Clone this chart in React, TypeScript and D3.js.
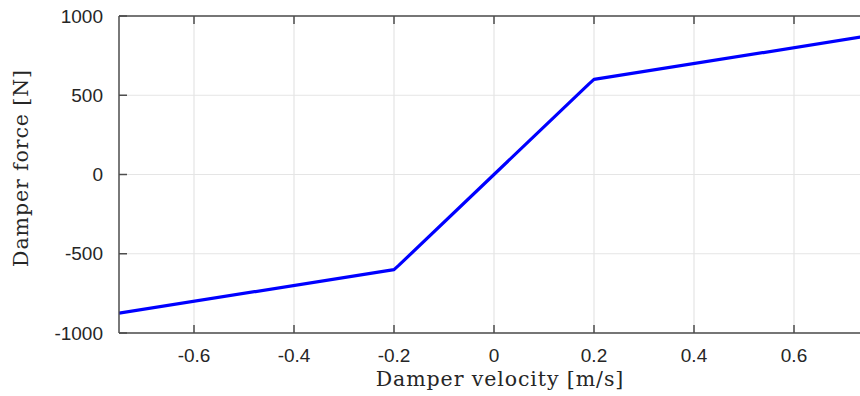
import React from 'react';
import * as d3 from 'd3';

// damper characteristic
const velocity = [-0.75, -0.2, -0.19, 0, 0.19, 0.2, 0.75];
const force = [-875, -600, -572, 0, 572, 600, 875];
const xTicks = [-0.6, -0.4, -0.2, 0, 0.2, 0.4, 0.6];
const yTicks = [-1000, -500, 0, 500, 1000];

const width = 860;
const height = 396;
const margin = { top: 16, left: 119, bottom: 63 };
const plotRight = 869; // axes box runs past the window edge

export default function App() {
  const x = d3.scaleLinear().domain([-0.75, 0.75]).range([margin.left, plotRight]);
  const y = d3.scaleLinear().domain([-1000, 1000]).range([height - margin.bottom, margin.top]);

  const pts = velocity.map((v, i) => [v, force[i]] as [number, number]);
  const line = d3
    .line<[number, number]>()
    .x(d => x(d[0]))
    .y(d => y(d[1]));

  const axisColor = '#4d4d4d';
  const gridColor = '#e5e5e5';
  const tickFont = '"Liberation Sans", Arial, sans-serif';
  const labelFont = '"DejaVu Serif", serif';
  const y0 = y(-1000);
  const y1 = y(1000);
  const tickLen = 8;

  return (
    <svg width={width} height={height} style={{ position: 'absolute', left: 0, top: 0, background: '#fff' }}>
      <defs>
        <clipPath id="plot">
          <rect x={margin.left} y={y1} width={plotRight - margin.left} height={y0 - y1} />
        </clipPath>
      </defs>

      {/* grid */}
      {xTicks.map(t => (
        <line key={'gx' + t} x1={x(t)} x2={x(t)} y1={y1} y2={y0} stroke={gridColor} strokeWidth={1.2} />
      ))}
      {yTicks.map(t => (
        <line key={'gy' + t} x1={margin.left} x2={plotRight} y1={y(t)} y2={y(t)} stroke={gridColor} strokeWidth={1.2} />
      ))}

      {/* data */}
      <path
        d={line(pts) ?? ''}
        fill="none"
        stroke="#0000ff"
        strokeWidth={3.2}
        strokeLinejoin="round"
        clipPath="url(#plot)"
      />

      {/* axes box */}
      <line x1={margin.left} x2={margin.left} y1={y1} y2={y0} stroke={axisColor} strokeWidth={1.5} />
      <line x1={margin.left} x2={plotRight} y1={y0} y2={y0} stroke={axisColor} strokeWidth={1.5} />
      <line x1={margin.left} x2={plotRight} y1={y1} y2={y1} stroke={axisColor} strokeWidth={1.5} />

      {/* x ticks */}
      {xTicks.map(t => (
        <g key={'tx' + t}>
          <line x1={x(t)} x2={x(t)} y1={y0} y2={y0 - tickLen} stroke={axisColor} strokeWidth={1.5} />
          <line x1={x(t)} x2={x(t)} y1={y1} y2={y1 + tickLen} stroke={axisColor} strokeWidth={1.5} />
          <text x={x(t)} y={y0 + 29} textAnchor="middle" fontFamily={tickFont} fontSize={19} fill="#262626">
            {t === 0 ? '0' : String(t)}
          </text>
        </g>
      ))}

      {/* y ticks */}
      {yTicks.map(t => (
        <g key={'ty' + t}>
          <line x1={margin.left} x2={margin.left + tickLen} y1={y(t)} y2={y(t)} stroke={axisColor} strokeWidth={1.5} />
          <text x={103} y={y(t)} dy="0.35em" textAnchor="end" fontFamily={tickFont} fontSize={19} fill="#262626">
            {String(t)}
          </text>
        </g>
      ))}

      {/* labels */}
      <text
        x={x(0) + 6}
        y={386}
        textAnchor="middle"
        fontFamily={labelFont}
        fontSize={20.5}
        letterSpacing={0.9}
        fill="#262626"
      >
        Damper velocity [m/s]
      </text>
      <text
        transform={`translate(28, 168) rotate(-90)`}
        textAnchor="middle"
        fontFamily={labelFont}
        fontSize={20.5}
        letterSpacing={0.9}
        fill="#262626"
      >
        Damper force [N]
      </text>
    </svg>
  );
}
